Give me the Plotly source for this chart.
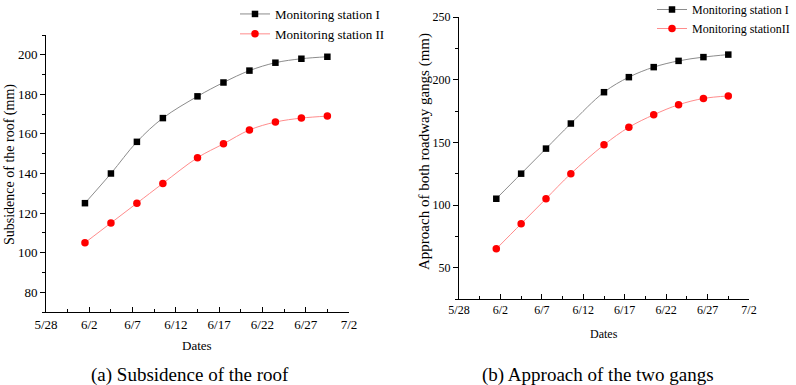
import plotly.graph_objects as go

# ---- data ----
dates = ["2020-06-01 12:00", "2020-06-04 12:00", "2020-06-07 12:00", "2020-06-10 12:00",
         "2020-06-14 12:00", "2020-06-17 12:00", "2020-06-20 12:00", "2020-06-23 12:00",
         "2020-06-26 12:00", "2020-06-29 12:00"]
roof_station1 = [125, 140, 156, 168, 179, 186, 192, 196, 198, 199]
roof_station2 = [105, 115, 125, 135, 148, 155, 162, 166, 168, 169]
gang_station1 = [105, 125, 145, 165, 190, 202, 210, 215, 218, 220]
gang_station2 = [65, 85, 105, 125, 148, 162, 172, 180, 185, 187]

x_tickvals = ["2020-05-28", "2020-06-02", "2020-06-07", "2020-06-12",
              "2020-06-17", "2020-06-22", "2020-06-27", "2020-07-02"]
x_ticktext = ["5/28", "6/2", "6/7", "6/12", "6/17", "6/22", "6/27", "7/2"]

W, H = 796, 385
FONT = "Liberation Serif"
DAY_MS = 86400000

def px_x(p):
    return p / W

def px_y(p):
    return 1 - p / H

fig = go.Figure()

# left chart
fig.add_trace(go.Scatter(x=dates, y=roof_station1, mode="lines+markers",
                         name="Monitoring station I", xaxis="x", yaxis="y",
                         line=dict(color="#8c8c8c", width=1, shape="spline"),
                         marker=dict(symbol="square", size=6.5, color="black"),
                         legend="legend"))
fig.add_trace(go.Scatter(x=dates, y=roof_station2, mode="lines+markers",
                         name="Monitoring station II", xaxis="x", yaxis="y",
                         line=dict(color="#ff8c8c", width=1, shape="spline"),
                         marker=dict(symbol="circle", size=7.5, color="#ff0000"),
                         legend="legend"))
# right chart
fig.add_trace(go.Scatter(x=dates, y=gang_station1, mode="lines+markers",
                         name="Monitoring station I", xaxis="x2", yaxis="y2",
                         line=dict(color="#8c8c8c", width=1, shape="spline"),
                         marker=dict(symbol="square", size=6.5, color="black"),
                         legend="legend2"))
fig.add_trace(go.Scatter(x=dates, y=gang_station2, mode="lines+markers",
                         name="Monitoring stationII", xaxis="x2", yaxis="y2",
                         line=dict(color="#ff8c8c", width=1, shape="spline"),
                         marker=dict(symbol="circle", size=7.5, color="#ff0000"),
                         legend="legend2"))

def xaxis_cfg(domain, anchor, fsize):
    return dict(domain=domain, anchor=anchor, type="date", automargin=False,
                range=["2020-05-28", "2020-07-02"],
                tickmode="array", tickvals=x_tickvals, ticktext=x_ticktext,
                ticks="inside", ticklen=5, tickwidth=1, tickcolor="black",
                minor=dict(ticks="inside", ticklen=3, tickwidth=1, tickcolor="black",
                           tick0="2020-05-28", dtick=2.5 * DAY_MS),
                showline=True, linecolor="black", linewidth=1,
                showgrid=False, zeroline=False,
                tickfont=dict(family=FONT, size=fsize, color="black"))

def yaxis_cfg(domain, anchor, rng, dtick, fsize):
    return dict(domain=domain, anchor=anchor, range=rng, automargin=False,
                tick0=0, dtick=dtick,
                ticks="outside", ticklen=5, tickwidth=1, tickcolor="black",
                minor=dict(ticks="outside", ticklen=3, tickwidth=1, tickcolor="black",
                           tick0=0, dtick=dtick / 2),
                showline=True, linecolor="black", linewidth=1,
                showgrid=False, zeroline=False,
                tickfont=dict(family=FONT, size=fsize, color="black"))

fig.update_layout(
    width=W, height=H,
    margin=dict(l=0, r=0, t=0, b=0, autoexpand=False),
    paper_bgcolor="white", plot_bgcolor="white",
    font=dict(family=FONT, color="black"),
    xaxis=xaxis_cfg([px_x(46), px_x(349)], "y", 13),
    yaxis=yaxis_cfg([px_y(312), px_y(35)], "x", [70, 210], 20, 13),
    xaxis2=xaxis_cfg([px_x(459), px_x(749)], "y2", 12),
    yaxis2=yaxis_cfg([px_y(299), px_y(17)], "x2", [25, 250], 50, 12),
    legend=dict(x=px_x(235), y=px_y(-1), xanchor="left", yanchor="top",
                bgcolor="rgba(0,0,0,0)", font=dict(family=FONT, size=13, color="black"),
                tracegroupgap=0),
    legend2=dict(x=px_x(652), y=px_y(-5), xanchor="left", yanchor="top",
                 bgcolor="rgba(0,0,0,0)", font=dict(family=FONT, size=12, color="black"),
                 tracegroupgap=0),
    showlegend=True,
)

annotations = [
    dict(text="Subsidence of the roof (mm)", x=px_x(10), y=px_y(165), textangle=-90,
         font=dict(size=14)),
    dict(text="Dates", x=px_x(197), y=px_y(345), font=dict(size=13)),
    dict(text="(a) Subsidence of the roof", x=px_x(190), y=px_y(375), font=dict(size=19)),
    dict(text="Approach of both roadway gangs (mm)", x=px_x(424), y=px_y(152), textangle=-90,
         font=dict(size=15)),
    dict(text="Dates", x=px_x(604), y=px_y(334), font=dict(size=12)),
    dict(text="(b) Approach of the two gangs", x=px_x(598), y=px_y(375), font=dict(size=19)),
]
for a in annotations:
    a.update(xref="paper", yref="paper", showarrow=False, xanchor="center", yanchor="middle")
    a["font"].update(family=FONT, color="black")
fig.update_layout(annotations=annotations)

fig.write_html("out.html", config={"displayModeBar": False},
               post_script="document.body.style.margin='0';")
